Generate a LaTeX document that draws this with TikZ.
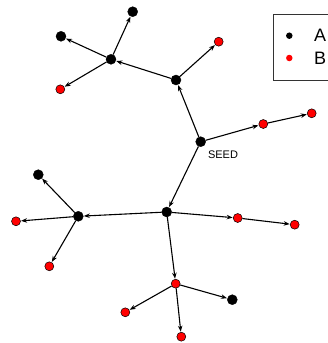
\documentclass[tikz,border=0pt]{standalone}
\usepackage{fontspec}
\setmainfont{Liberation Sans}
\usetikzlibrary{arrows.meta}
\tikzset{
  anode/.style={circle,fill=black,draw=black,inner sep=0pt,minimum size=10pt},
  bnode/.style={circle,fill=red,draw=black,line width=0.5pt,inner sep=0pt,minimum size=9pt},
  link/.style={line width=1.1pt,-{Stealth[length=6pt,width=4.5pt]},shorten >=0.3pt},
}
\begin{document}
\begin{tikzpicture}[x=1pt,y=-1pt]
\useasboundingbox (0,0) rectangle (327,343);
% nodes
\node[anode] (seed) at (200.7,141.7) {};
\node[font=\fontsize{11}{12}\selectfont,inner sep=0pt] (seedlbl) at (223,155) {SEED};
\node[anode] (h2) at (176,80) {};
\node[anode] (h1) at (111,59.3) {};
\node[anode] (a1) at (132.7,11.7) {};
\node[anode] (a2) at (61,36.3) {};
\node[bnode] (b1) at (60.3,89.3) {};
\node[bnode] (b2) at (218.7,41.7) {};
\node[bnode] (b3) at (263.3,124) {};
\node[bnode] (b4) at (311.7,113.3) {};
\node[anode] (h4) at (166.7,212) {};
\node[anode] (h3) at (78.3,216.3) {};
\node[anode] (a3) at (38.3,174.7) {};
\node[bnode] (b5) at (16,221.3) {};
\node[bnode] (b6) at (49.3,266.3) {};
\node[bnode] (b7) at (237.7,218) {};
\node[bnode] (b8) at (294.7,224.7) {};
\node[bnode] (h5) at (175.7,283.7) {};
\node[anode] (a4) at (232.3,299.7) {};
\node[bnode] (b9) at (125.3,312.3) {};
\node[bnode] (b10) at (181.3,336.7) {};
% edges
\draw[link] (seed) -- (h2);
\draw[link] (h2) -- (h1);
\draw[link] (h1) -- (a1);
\draw[link] (h1) -- (a2);
\draw[link] (h1) -- (b1);
\draw[link] (h2) -- (b2);
\draw[link] (seed) -- (b3);
\draw[link] (b3) -- (b4);
\draw[link] (seed) -- (h4);
\draw[link] (h4) -- (h3);
\draw[link] (h3) -- (a3);
\draw[link] (h3) -- (b5);
\draw[link] (h3) -- (b6);
\draw[link] (h4) -- (b7);
\draw[link] (b7) -- (b8);
\draw[link] (h4) -- (h5);
\draw[link] (h5) -- (a4);
\draw[link] (h5) -- (b9);
\draw[link] (h5) -- (b10);
% legend
\draw[line width=0.8pt,black!80] (340,14) -- (273.5,14) -- (273.5,80.3) -- (340,80.3);
\node[circle,fill=black,inner sep=0pt,minimum size=6.5pt] (la) at (289.3,35.7) {};
\node[circle,fill=red,inner sep=0pt,minimum size=6.5pt] (lb) at (289.3,58) {};
\node[anchor=west,font=\fontsize{18}{20}\selectfont,inner sep=0pt] (lta) at (314,35.7) {A};
\node[anchor=west,font=\fontsize{18}{20}\selectfont,inner sep=0pt] (ltb) at (314,58) {B};
\end{tikzpicture}
\end{document}
